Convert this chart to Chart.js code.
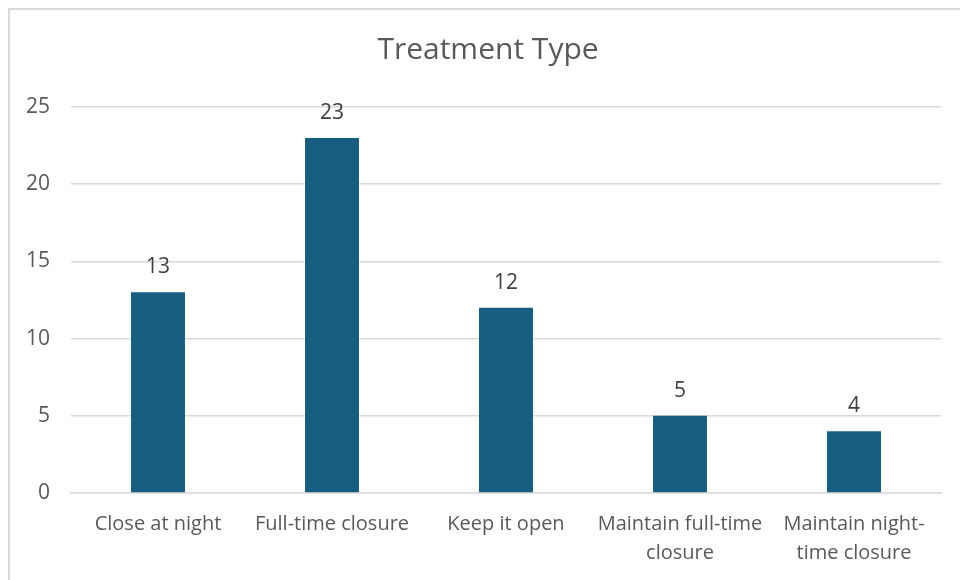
<!DOCTYPE html>
<html>
<head>
<meta charset="utf-8">
<script src="https://cdn.jsdelivr.net/npm/chart.js@4"></script>
<style>
  html, body { margin: 0; padding: 0; background: #fff; }
  #wrap { position: relative; width: 960px; height: 580px; }
</style>
</head>
<body>
<div id="wrap"><canvas id="myChart"></canvas></div>
<script>
const categories = [
  'Close at night',
  'Full-time closure',
  'Keep it open',
  ['Maintain full-time', 'closure'],
  ['Maintain night-', 'time closure']
];
const counts = [13, 23, 12, 5, 4];
const yTicks = [0, 5, 10, 15, 20, 25];

const fontFamily = '"Open Sans", "Liberation Sans", sans-serif';
const textGrey = '#595959';
const barColor = '#165e80';

// light frame around the whole chart
const framePlugin = {
  id: 'frame',
  beforeDraw(chart) {
    const c = chart.ctx;
    c.save();
    c.fillStyle = '#fff';
    c.fillRect(0, 0, chart.width, chart.height);
    c.strokeStyle = '#d9d9d9';
    c.lineWidth = 2;
    c.strokeRect(9, 9, 1000, 1000);
    c.restore();
  }
};

// value printed above every bar
const valueLabels = {
  id: 'valueLabels',
  afterDatasetsDraw(chart) {
    const c = chart.ctx;
    const meta = chart.getDatasetMeta(0);
    c.save();
    c.font = '21px ' + fontFamily;
    c.fillStyle = '#404040';
    c.textAlign = 'center';
    c.textBaseline = 'middle';
    meta.data.forEach((bar, i) => {
      c.fillText(String(counts[i]), bar.x, bar.y - 25);
    });
    c.restore();
  }
};

let ctx = document.getElementById('myChart').getContext('2d');
let myGraph = new Chart(ctx, {
  type: 'bar',
  data: {
    labels: categories,
    datasets: [{
      data: counts,
      backgroundColor: barColor,
      borderWidth: 0,
      barPercentage: 0.31,
      categoryPercentage: 1
    }]
  },
  options: {
    responsive: true,
    maintainAspectRatio: false,
    animation: false,
    layout: { padding: { left: 16, right: 0, top: 0, bottom: 0 } },
    plugins: {
      legend: { display: false },
      tooltip: { enabled: false },
      title: {
        display: true,
        text: 'Treatment Type',
        color: textGrey,
        font: { family: fontFamily, size: 30, weight: 'normal', lineHeight: 1.2 },
        padding: { top: 32, bottom: 39 }
      }
    },
    scales: {
      x: {
        grid: { display: false, drawTicks: false },
        border: { display: true, color: '#d9d9d9', width: 1.5 },
        ticks: {
          color: textGrey,
          padding: 17,
          maxRotation: 0,
          autoSkip: false,
          font: { family: fontFamily, size: 20, lineHeight: 1.45 }
        },
        afterFit: s => { s.height = 87; }
      },
      y: {
        min: 0,
        max: 25,
        afterBuildTicks: s => { s.ticks = yTicks.map(v => ({ value: v })); },
        grid: { color: '#d9d9d9', lineWidth: 1.5, drawTicks: false },
        border: { display: false },
        ticks: {
          color: textGrey,
          padding: 21,
          font: { family: fontFamily, size: 21 }
        },
        afterFit: s => { s.width = 55; }
      },
      // empty right-hand axis, only reserves space next to the plot
      spacer: {
        position: 'right',
        display: true,
        grid: { display: false, drawTicks: false },
        border: { display: false },
        ticks: { display: false },
        afterFit: s => { s.width = 19; }
      }
    }
  },
  plugins: [framePlugin, valueLabels]
});
</script>
</body>
</html>
